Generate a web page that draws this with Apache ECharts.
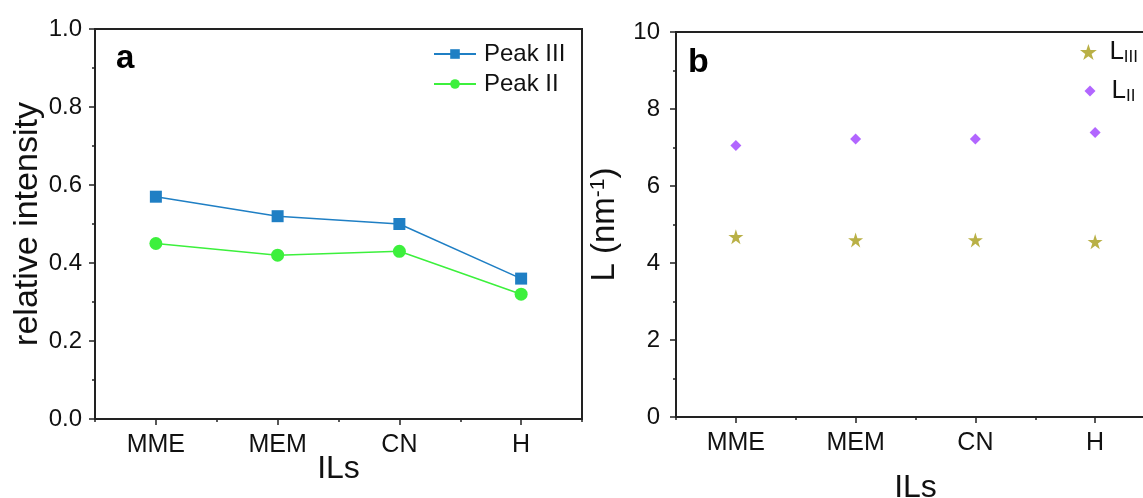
<!DOCTYPE html>
<html>
<head>
<meta charset="utf-8">
<script src="https://cdn.jsdelivr.net/npm/echarts@6/dist/echarts.min.js"></script>
<style>html,body{margin:0;padding:0;background:#fff;}#c{width:1143px;height:498px;}</style>
</head>
<body>
<div id="c"></div>
<script>
const categories = ['MME', 'MEM', 'CN', 'H'];
const peakIII = [0.57, 0.52, 0.50, 0.36];
const peakII = [0.45, 0.42, 0.43, 0.32];
const L_III = [4.68, 4.60, 4.60, 4.55];
const L_II = [7.05, 7.22, 7.22, 7.39];
const yTicksA = [0, 1, 0.2];
const yTicksB = [0, 10, 2];

const FONT = 'Liberation Sans';
const AX = '#222';
const STAR = 'path://M50 0 L61.23 34.55 L97.55 34.55 L68.16 55.9 L79.39 90.45 L50 69.1 L20.61 90.45 L31.84 55.9 L2.45 34.55 L38.77 34.55 Z';
const cBlue = '#1f7fc4', cGreen = '#3cf03c', cStar = '#a89c18', cDia = '#9f40ff';

function xAxesFor(gi, nameGap) {
  return [
    { type: 'category', gridIndex: gi, data: categories, boundaryGap: true, position: 'bottom',
      axisLine: { lineStyle: { color: AX, width: 2 } },
      axisTick: { show: true, length: 3, lineStyle: { color: AX, width: 1.5 } },
      axisLabel: { show: false }, splitLine: { show: false },
      name: 'ILs', nameLocation: 'middle', nameGap: nameGap,
      nameTextStyle: { fontFamily: FONT, fontSize: 32, color: '#111' } },
    { type: 'category', gridIndex: gi, data: categories, boundaryGap: true, position: 'bottom',
      axisLine: { show: false },
      axisTick: { show: true, alignWithLabel: true, length: 6, lineStyle: { color: AX, width: 1.5 } },
      axisLabel: { show: true, fontFamily: FONT, fontSize: 25, color: '#111', margin: 14 },
      splitLine: { show: false } }
  ];
}
function yAxisFor(gi, t, name, nameGap, fmt, margin) {
  return { type: 'value', gridIndex: gi, min: t[0], max: t[1], interval: t[2],
    axisLine: { show: true, lineStyle: { color: AX, width: 2 } },
    axisTick: { show: true, length: 6, lineStyle: { color: AX, width: 1.5 } },
    minorTick: { show: true, splitNumber: 2, length: 3, lineStyle: { color: AX, width: 1.5 } },
    splitLine: { show: false },
    axisLabel: { fontFamily: FONT, fontSize: 24, color: '#111', margin: margin, formatter: fmt },
    name: name, nameLocation: 'middle', nameGap: nameGap,
    nameTextStyle: { fontFamily: FONT, fontSize: 34, color: '#111',
      rich: { n: { fontFamily: FONT, fontSize: 33, color: '#111' },
              s: { fontFamily: FONT, fontSize: 21, color: '#111', verticalAlign: 'top' } } }
  };
}

const chart = echarts.init(document.getElementById('c'), null, { renderer: 'canvas' });
chart.setOption({
  backgroundColor: '#fff',
  animation: false,
  grid: [
    { left: 95, top: 29, width: 487, height: 390, show: true, borderColor: AX, borderWidth: 2,
      backgroundColor: 'transparent', outerBoundsMode: 'none', containLabel: false },
    { left: 676, top: 32, width: 479, height: 385, show: true, borderColor: AX, borderWidth: 2,
      backgroundColor: 'transparent', outerBoundsMode: 'none', containLabel: false }
  ],
  xAxis: [...xAxesFor(0, 34), ...xAxesFor(1, 55)],
  yAxis: [
    yAxisFor(0, yTicksA, 'relative intensity', 50, v => v.toFixed(1), 13),
    yAxisFor(1, yTicksB, '{n|L (nm}{s|-1}{n|)}', 55, v => String(v), 16)
  ],
  legend: [
    { orient: 'vertical', left: 433, top: 41, padding: 0, itemWidth: 42, itemHeight: 12, itemGap: 4,
      data: ['Peak III', 'Peak II'],
      textStyle: { fontFamily: FONT, fontSize: 24, color: '#111', lineHeight: 26, padding: [0, 0, 0, 3] } },
    { orient: 'vertical', left: 1080, top: 39, padding: 0, itemWidth: 20, itemHeight: 16, itemGap: 0,
      data: ['L_III'],
      formatter: () => '{l|L}{s|III}',
      textStyle: { fontFamily: FONT, fontSize: 24, color: '#111',
        rich: { l: { fontFamily: FONT, fontSize: 26, color: '#111', padding: [0, 0, 0, 6] },
                s: { fontFamily: FONT, fontSize: 17, color: '#111', verticalAlign: 'bottom', padding: [10, 0, 0, 0] } } } },
    { orient: 'vertical', left: 1084.5, top: 78, padding: 0, itemWidth: 11, itemHeight: 11, itemGap: 0,
      data: ['L_II'],
      formatter: () => '{l|L}{s|II}',
      textStyle: { fontFamily: FONT, fontSize: 24, color: '#111',
        rich: { l: { fontFamily: FONT, fontSize: 26, color: '#111', padding: [0, 0, 0, 11] },
                s: { fontFamily: FONT, fontSize: 17, color: '#111', verticalAlign: 'bottom', padding: [10, 0, 0, 0] } } } }
  ],
  graphic: [
    { type: 'text', left: 116, top: 42, style: { text: 'a', font: 'bold 33px "Liberation Sans"', fill: '#000' } },
    { type: 'text', left: 688, top: 46, style: { text: 'b', font: 'bold 34px "Liberation Sans"', fill: '#000' } }
  ],
  series: [
    { name: 'Peak III', type: 'line', xAxisIndex: 0, yAxisIndex: 0, data: peakIII,
      symbol: 'rect', symbolSize: 12, itemStyle: { color: cBlue }, lineStyle: { color: cBlue, width: 1.5 } },
    { name: 'Peak II', type: 'line', xAxisIndex: 0, yAxisIndex: 0, data: peakII,
      symbol: 'circle', symbolSize: 13, itemStyle: { color: cGreen }, lineStyle: { color: cGreen, width: 1.5 } },
    { name: 'L_III', type: 'scatter', xAxisIndex: 2, yAxisIndex: 1, data: L_III,
      symbol: STAR, symbolSize: 15, itemStyle: { color: cStar } },
    { name: 'L_II', type: 'scatter', xAxisIndex: 2, yAxisIndex: 1, data: L_II,
      symbol: 'diamond', symbolSize: [11, 11], itemStyle: { color: cDia } }
  ]
});
</script>
</body>
</html>
